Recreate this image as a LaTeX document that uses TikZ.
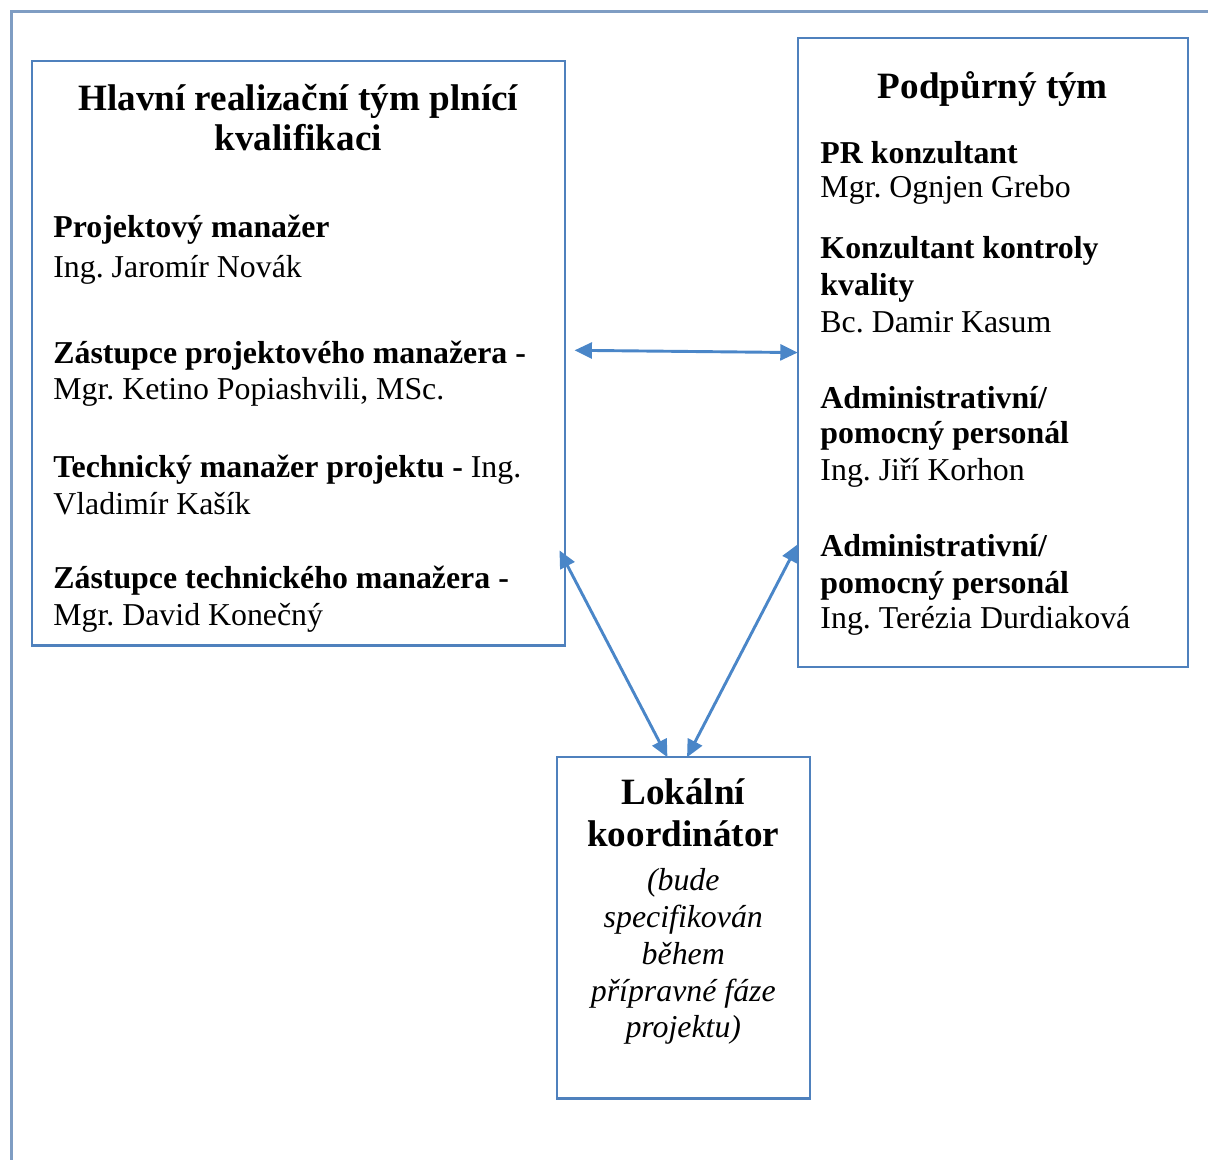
\documentclass[tikz,border=0pt]{standalone}
\usepackage{fontspec}
\setmainfont{Liberation Serif}
\usepackage{xcolor}
\usepackage{tikz}
\usetikzlibrary{arrows.meta}
\definecolor{TeamBlue}{HTML}{4F81BD}
\definecolor{TeamArrow}{HTML}{4A86C8}
\definecolor{TeamFrame}{HTML}{7F9DC3}
\frenchspacing

\begin{document}
\begin{tikzpicture}[x=1cm,y=1cm,
  teambox/.style={draw=TeamBlue,line width=0.8pt,inner sep=0pt,outer sep=0pt},
  teamhead/.style={anchor=base,inner sep=0pt,font=\fontsize{14}{16}\selectfont\bfseries},
  rolehead/.style={anchor=base west,inner sep=0pt,font=\fontsize{12}{14}\selectfont\bfseries},
  personname/.style={anchor=base west,inner sep=0pt,font=\fontsize{12}{14}\selectfont},
  notetext/.style={anchor=base,inner sep=0pt,font=\fontsize{12}{14}\selectfont\itshape},
  biarrow/.style={TeamArrow,line width=1.1pt,{Triangle[length=0.23cm,width=0.21cm]}-{Triangle[length=0.23cm,width=0.21cm]}}]
\path[use as bounding box] (0,0) rectangle (16.00,15.36);
\draw[TeamFrame,line width=1pt] (0.15,0) -- (0.15,15.21) -- (16.00,15.21);
% main team
\node[teambox,minimum width=7.06cm,minimum height=7.74cm] (hlavni) at (3.95,10.68) {};
\node[teamhead] (hlavni-t1) at (3.95,13.89) {Hlavní realizační tým plnící};
\node[teamhead] (hlavni-t2) at (3.95,13.36) {kvalifikaci};
\node[rolehead] (pm-role) at (0.70,12.22) {Projektový manažer};
\node[personname] (pm-name) at (0.70,11.68) {Ing. Jaromír Novák};
\node[rolehead] (zpm-role) at (0.70,10.55) {Zástupce projektového manažera -};
\node[personname] (zpm-name) at (0.70,10.07) {Mgr. Ketino Popiashvili, MSc.};
\node[personname] (tm-role) at (0.70,9.03) {\textbf{Technický manažer projektu -} Ing.};
\node[personname] (tm-name) at (0.70,8.55) {Vladimír Kašík};
\node[rolehead] (ztm-role) at (0.70,7.56) {Zástupce technického manažera -};
\node[personname] (ztm-name) at (0.70,7.07) {Mgr. David Konečný};
% support team
\node[teambox,minimum width=5.17cm,minimum height=8.34cm] (podpora) at (13.15,10.69) {};
\node[teamhead] (podpora-t1) at (13.15,14.05) {Podpůrný tým};
\node[rolehead] (pr-role) at (10.86,13.20) {PR konzultant};
\node[personname] (pr-name) at (10.86,12.74) {Mgr. Ognjen Grebo};
\node[rolehead] (kk-role1) at (10.86,11.93) {Konzultant kontroly};
\node[rolehead] (kk-role2) at (10.86,11.44) {kvality};
\node[personname] (kk-name) at (10.86,10.95) {Bc. Damir Kasum};
\node[rolehead] (adm1-role1) at (10.86,9.95) {Administrativní/};
\node[rolehead] (adm1-role2) at (10.86,9.48) {pomocný personál};
\node[personname] (adm1-name) at (10.86,8.99) {Ing. Jiří Korhon};
\node[rolehead] (adm2-role1) at (10.86,7.99) {Administrativní/};
\node[rolehead] (adm2-role2) at (10.86,7.50) {pomocný personál};
\node[personname] (adm2-name) at (10.86,7.03) {Ing. Terézia Durdiaková};
% local coordinator
\node[teambox,minimum width=3.35cm,minimum height=4.52cm] (lokalni) at (9.05,3.07) {};
\node[teamhead] (lokalni-t1) at (9.05,4.71) {Lokální};
\node[teamhead] (lokalni-t2) at (9.05,4.15) {koordinátor};
\node[notetext] (lokalni-n1) at (9.05,3.57) {(bude};
\node[notetext] (lokalni-n2) at (9.05,3.08) {specifikován};
\node[notetext] (lokalni-n3) at (9.05,2.59) {během};
\node[notetext] (lokalni-n4) at (9.05,2.10) {přípravné fáze};
\node[notetext] (lokalni-n5) at (9.05,1.62) {projektu)};
% links
\draw[biarrow] ([shift={(0.13,0.04)}]hlavni.east) -- (podpora.west);
\draw[biarrow] ([shift={(-0.07,-2.61)}]hlavni.east) -- ([xshift=-0.21cm]lokalni.north);
\draw[biarrow] ([yshift=-2.54cm]podpora.west) -- ([xshift=0.05cm]lokalni.north);
\end{tikzpicture}
\end{document}
